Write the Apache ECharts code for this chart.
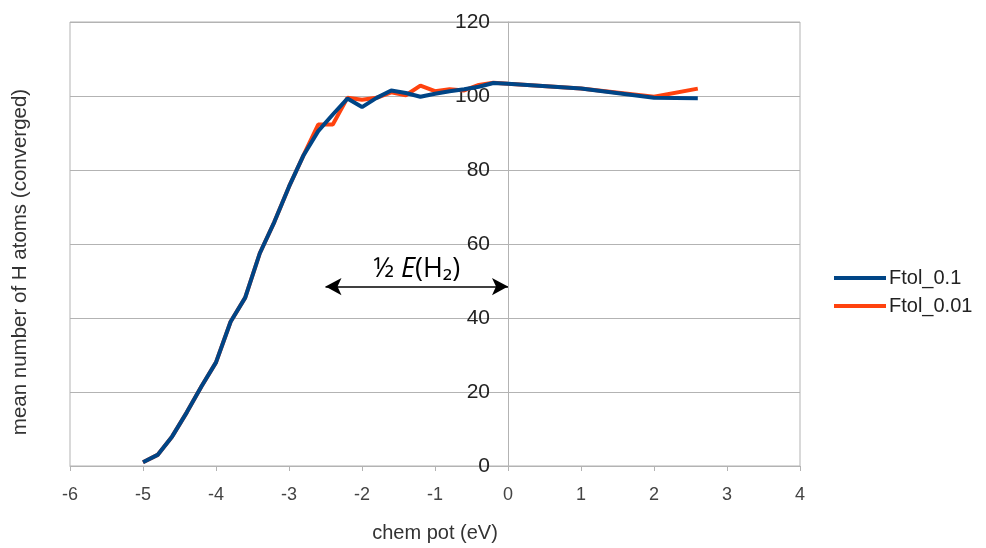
<!DOCTYPE html>
<html>
<head>
<meta charset="utf-8">
<script src="https://cdn.jsdelivr.net/npm/echarts@6/dist/echarts.min.js"></script>
<style>
  html, body { margin: 0; padding: 0; background: #fff; }
  #main { width: 986px; height: 548px; }
</style>
</head>
<body>
<div id="main"></div>
<script>
// chemical potential (eV) and mean number of H atoms
var chemPot01 = [-5.0, -4.8, -4.6, -4.4, -4.2, -4.0, -3.8, -3.6, -3.4, -3.2, -3.0, -2.8, -2.6, -2.4, -2.2, -2.0,
                 -1.8, -1.6, -1.4, -1.2, -1.0, -0.8, -0.6, -0.4, -0.2, 0, 1, 2, 2.6];
var ftol01 = [1, 3, 8, 14.5, 21.5, 28, 39, 45.5, 57.5, 66, 75.5, 84, 90.5, 95, 99.3, 97,
              99.5, 101.5, 100.8, 99.8, 100.6, 101.3, 101.8, 102.5, 103.5, 103.3, 102, 99.5, 99.4];

var chemPot001 = [-5.0, -4.8, -4.6, -4.4, -4.2, -4.0, -3.8, -3.6, -3.4, -3.2, -3.0, -2.8, -2.6, -2.4, -2.2, -2.0,
                  -1.8, -1.6, -1.4, -1.2, -1.0, -0.8, -0.6, -0.4, -0.2, 0, 1, 2, 2.6];
var ftol001 = [1, 3, 8, 14.5, 21.5, 28, 39, 45.5, 57.5, 66, 75.5, 84, 92.3, 92.3, 99.5, 99,
               99.5, 101, 100.2, 102.8, 101.3, 101.8, 101.5, 103, 103.6, 103.3, 102, 99.8, 102];

var seriesNames = ['Ftol_0.1', 'Ftol_0.01'];
var halfEH2 = [-2.5, 0, 48.5]; // arrow from x, to x, at y

function pairs(xs, ys) {
    return xs.map(function (x, i) { return [x, ys[i]]; });
}

var myChart = echarts.init(document.getElementById('main'), null, { renderer: 'canvas' });

var gridLeft = 70, gridRight = 186;
var plotW = 986 - gridLeft - gridRight;
// y axis sits at x = 0 of the x axis (-6..4)
var yAxisShift = plotW * (0 - (-6)) / 10;

var option = {
    backgroundColor: '#ffffff',
    animation: false,
    textStyle: { fontFamily: 'Liberation Sans' },
    grid: {
        left: gridLeft,
        right: gridRight,
        top: 22,
        bottom: 76,
        show: true,
        borderColor: '#b3b3b3',
        borderWidth: 1
    },
    legend: {
        orient: 'vertical',
        left: 829,
        top: 263,
        itemWidth: 52,
        itemHeight: 4,
        itemGap: 8,
        icon: 'rect',
        textStyle: { fontSize: 20, color: '#222', padding: [0, 0, 0, -2] },
        data: seriesNames
    },
    xAxis: {
        type: 'value',
        min: -6,
        max: 4,
        interval: 1,
        name: 'chem pot (eV)',
        nameLocation: 'middle',
        nameGap: 57,
        nameTextStyle: { fontSize: 20, color: '#333' },
        axisLine: { onZero: false, lineStyle: { color: '#b3b3b3' } },
        axisTick: { show: true, length: 5, lineStyle: { color: '#b3b3b3' } },
        axisLabel: { fontSize: 18, color: '#444', margin: 20 },
        splitLine: { show: false }
    },
    yAxis: {
        type: 'value',
        min: 0,
        max: 120,
        interval: 20,
        offset: -yAxisShift,
        axisLine: { show: true, onZero: false, lineStyle: { color: '#b3b3b3' } },
        axisTick: { show: false },
        axisLabel: { fontSize: 21, color: '#222', margin: 18 },
        splitLine: { show: true, lineStyle: { color: '#b3b3b3', width: 1 } }
    },
    graphic: [{
        type: 'text',
        x: 20,
        y: 262,
        rotation: Math.PI / 2,
        style: {
            text: 'mean number of H atoms (converged)',
            x: 0,
            y: 0,
            align: 'center',
            verticalAlign: 'middle',
            fontSize: 20.5,
            fontFamily: 'Liberation Sans',
            fill: '#333'
        }
    }],
    series: [
        {
            name: seriesNames[1],
            type: 'line',
            data: pairs(chemPot001, ftol001),
            showSymbol: false,
            color: '#ff420e',
            lineStyle: { width: 4, color: '#ff420e' },
            z: 2
        },
        {
            name: seriesNames[0],
            type: 'line',
            data: pairs(chemPot01, ftol01),
            showSymbol: false,
            color: '#004586',
            lineStyle: { width: 4, color: '#004586' },
            z: 3,
            markLine: {
                silent: true,
                symbol: ['arrow', 'arrow'],
                symbolSize: [13, 16],
                lineStyle: { color: '#000', width: 1.5, type: 'solid' },
                label: {
                    show: true,
                    position: 'middle',
                    distance: 4,
                    formatter: '{a|½ }{i|E}{a|(H₂)}',
                    rich: {
                        a: { fontSize: 27, fontFamily: 'Open Sans', color: '#000' },
                        i: { fontSize: 27, fontFamily: 'Open Sans', fontStyle: 'italic', color: '#000' }
                    }
                },
                data: [[
                    { coord: [halfEH2[0], halfEH2[2]] },
                    { coord: [halfEH2[1], halfEH2[2]] }
                ]]
            }
        }
    ]
};

myChart.setOption(option);
</script>
</body>
</html>
